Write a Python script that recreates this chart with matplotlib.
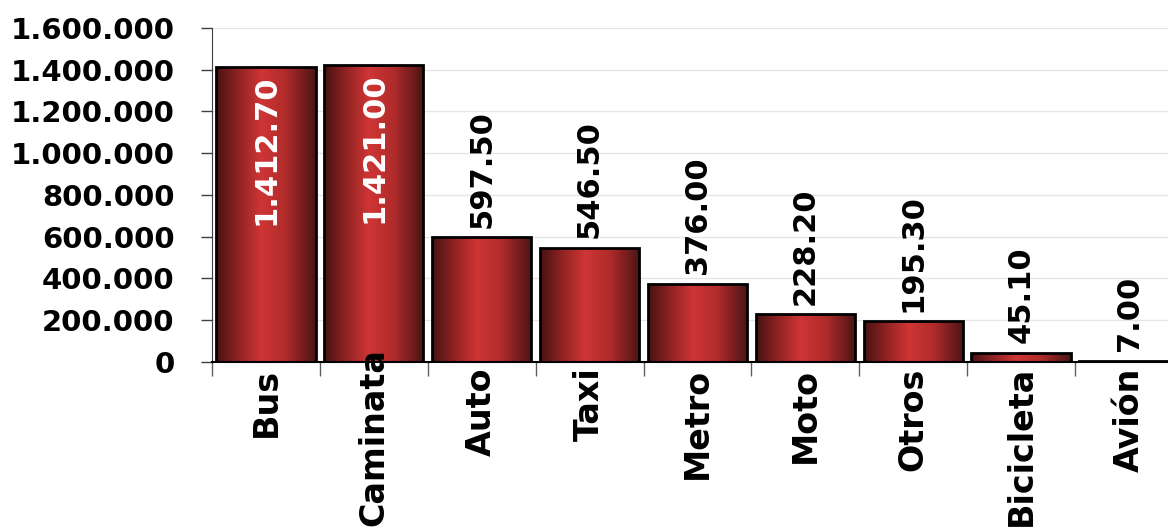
import numpy as np
import matplotlib
matplotlib.use("Agg")
import matplotlib.pyplot as plt
from matplotlib.colors import LinearSegmentedColormap
from matplotlib.ticker import FuncFormatter

# data
modes = ["Bus", "Caminata", "Auto", "Taxi", "Metro", "Moto", "Otros", "Bicicleta", "Avión"]
trips = [1412700, 1421000, 597500, 546500, 376000, 228200, 195300, 45100, 7000]
y_ticks = [0, 200000, 400000, 600000, 800000, 1000000, 1200000, 1400000, 1600000]

plt.rcParams['font.family'] = ['DejaVu Sans']
plt.rcParams['font.weight'] = 'bold'


def dots(v):
    # thousands separated by dots, as in the original
    return f"{int(v):,}".replace(",", ".")


fig = plt.figure(figsize=(11.68, 5.27), dpi=100)
ax = fig.add_axes([0.1815, 0.3131, 0.8313, 0.6338])

x = np.arange(len(modes))
bars = ax.bar(x, trips, width=0.92, facecolor='none', edgecolor='black',
              linewidth=2, zorder=3)

# horizontal red gradient inside every bar (dark edges, light centre)
cmap = LinearSegmentedColormap.from_list(
    "barred", [(0.0, "#461212"), (0.2, "#8a2121"), (0.45, "#cf3535"),
               (0.7, "#b02b2b"), (1.0, "#4a1414")])
grad = np.linspace(0, 1, 256).reshape(1, -1)
for b in bars:
    x0, y0 = b.get_x(), b.get_y()
    im = ax.imshow(grad, cmap=cmap, aspect='auto', zorder=2,
                   extent=[x0, x0 + b.get_width(), y0, y0 + b.get_height()])
    im.set_clip_path(b)

# value labels, the last digit is cut off in the original
for xi, v in zip(x, trips):
    txt = dots(v)[:-1]
    if v > 1000000:
        ax.annotate(txt, (xi, v), xytext=(0, -5), textcoords='offset points',
                    rotation=90, ha='center', va='top', fontsize=22,
                    fontweight='bold', color='white', zorder=4)
    else:
        ax.annotate(txt, (xi, v), xytext=(0, 7), textcoords='offset points',
                    rotation=90, ha='center', va='bottom', fontsize=22,
                    fontweight='bold', color='black', zorder=4)

ax.set_xlim(-0.5, len(modes) - 0.5)
ax.set_ylim(0, 1600000)

ax.set_yticks(y_ticks)
ax.yaxis.set_major_formatter(FuncFormatter(lambda v, p: dots(v)))
ax.tick_params(axis='y', length=8, width=1, color='#404040', pad=19,
               labelsize=21)

# category names as rotated texts under each bar; long ones get pushed up
# so they stay inside the picture, like the original does
ax.set_xticks(np.arange(-0.5, len(modes), 1))
ax.set_xticklabels([])
ax.tick_params(axis='x', length=10, width=1, color='#606060')
names = []
for xi, m in zip(x, modes):
    t = ax.annotate(m, (xi, 0), xycoords=('data', 'axes fraction'),
                    xytext=(0, -4), textcoords='offset points', rotation=90,
                    ha='center', va='top', fontsize=24, fontweight='bold',
                    annotation_clip=False)
    names.append(t)
fig.canvas.draw()
for t in names:
    bb = t.get_window_extent()
    if bb.y0 < 1:
        t.xyann = (0, -4 + (1 - bb.y0) * 72 / fig.dpi)

ax.grid(axis='y', color='#e6e6e6', linewidth=1)
ax.set_axisbelow(True)
for s in ['top', 'right']:
    ax.spines[s].set_visible(False)
ax.spines['left'].set_color('#404040')
ax.spines['bottom'].set_color('black')
ax.spines['bottom'].set_linewidth(1.5)

fig.savefig("out.png", dpi=100)
